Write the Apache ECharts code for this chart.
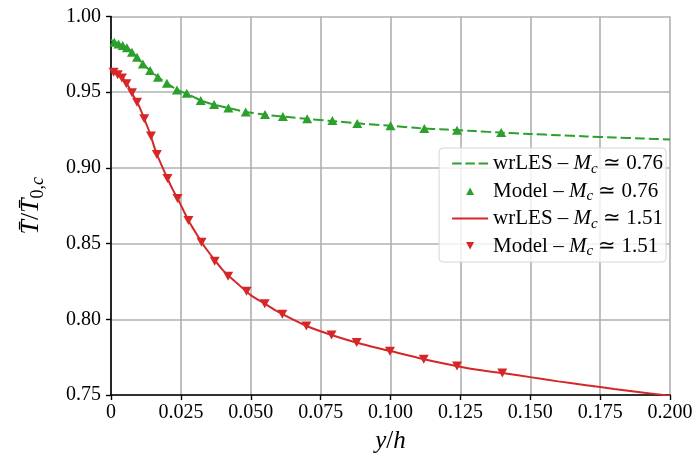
<!DOCTYPE html>
<html><head><meta charset="utf-8">
<script src="https://cdn.jsdelivr.net/npm/echarts@6/dist/echarts.min.js"></script>
<style>html,body{margin:0;padding:0;background:#fff}#c{width:696px;height:460px}</style>
</head><body><div id="c"></div>
<script>
// ---- data ----
const xTickMin = 0, xTickMax = 0.2, xTickStep = 0.025;
const yTickMin = 0.75, yTickMax = 1.0, yTickStep = 0.05;

const seriesNames = ['wrLES – Mc ≃ 0.76', 'Model – Mc ≃ 0.76', 'wrLES – Mc ≃ 1.51', 'Model – Mc ≃ 1.51'];

// wrLES, Mc ≃ 0.76 (dashed green)
const lesX076 = [0, 0.002, 0.004, 0.006, 0.008, 0.010, 0.012, 0.014, 0.017, 0.020, 0.024, 0.028, 0.032, 0.036, 0.042, 0.048, 0.055, 0.062, 0.070, 0.080, 0.090, 0.100, 0.110, 0.120, 0.130, 0.140, 0.150, 0.160, 0.170, 0.180, 0.190, 0.200];
const lesY076 = [0.9845, 0.9825, 0.9810, 0.9790, 0.9756, 0.9715, 0.9678, 0.9643, 0.9597, 0.9559, 0.9513, 0.9482, 0.9447, 0.9422, 0.9396, 0.9371, 0.9352, 0.9338, 0.9324, 0.9308, 0.9292, 0.9278, 0.9263, 0.9253, 0.9243, 0.9233, 0.9224, 0.9216, 0.9208, 0.9201, 0.9194, 0.9188];

// Model, Mc ≃ 0.76 (green up-triangles)
const modelX076 = [0.0012, 0.0027, 0.0042, 0.0057, 0.0075, 0.0093, 0.0114, 0.0140, 0.0168, 0.0200, 0.0236, 0.0271, 0.0321, 0.0369, 0.0420, 0.0482, 0.0551, 0.0615, 0.0702, 0.0792, 0.0881, 0.1000, 0.1121, 0.1238, 0.1396];
const modelY076 = [0.9830, 0.9819, 0.9808, 0.9793, 0.9764, 0.9731, 0.9687, 0.9643, 0.9599, 0.9559, 0.9515, 0.9493, 0.9445, 0.9418, 0.9396, 0.9370, 0.9352, 0.9339, 0.9324, 0.9313, 0.9293, 0.9278, 0.9260, 0.9249, 0.9233];

// wrLES, Mc ≃ 1.51 (solid red)
const lesX151 = [0, 0.002, 0.004, 0.006, 0.008, 0.010, 0.012, 0.014, 0.016, 0.018, 0.020, 0.022, 0.024, 0.026, 0.028, 0.030, 0.033, 0.036, 0.040, 0.045, 0.050, 0.055, 0.060, 0.070, 0.080, 0.090, 0.100, 0.110, 0.120, 0.130, 0.140, 0.150, 0.160, 0.170, 0.180, 0.190, 0.200];
const lesY151 = [0.9635, 0.9625, 0.9600, 0.9545, 0.9477, 0.9410, 0.9320, 0.9225, 0.9110, 0.9021, 0.8938, 0.8860, 0.8792, 0.8716, 0.8642, 0.8582, 0.8492, 0.8418, 0.8325, 0.8240, 0.8160, 0.8103, 0.8047, 0.7956, 0.7890, 0.7835, 0.7790, 0.7745, 0.7705, 0.7670, 0.7645, 0.7618, 0.7590, 0.7565, 0.7540, 0.7517, 0.7495];

// Model, Mc ≃ 1.51 (red down-triangles)
const modelX151 = [0.00095, 0.0024, 0.0039, 0.0055, 0.0075, 0.0093, 0.0119, 0.0143, 0.0164, 0.0202, 0.0238, 0.0277, 0.0324, 0.0371, 0.0419, 0.0485, 0.0550, 0.0613, 0.0699, 0.0789, 0.0879, 0.0998, 0.1119, 0.1238, 0.1400];
const modelY151 = [0.9632, 0.9616, 0.9594, 0.9555, 0.9496, 0.9434, 0.9325, 0.9211, 0.9088, 0.8930, 0.8798, 0.8652, 0.8509, 0.8383, 0.8284, 0.8185, 0.8103, 0.8033, 0.7956, 0.7896, 0.7846, 0.7789, 0.7736, 0.7692, 0.7645];

// ---- chart ----
const zip = (xs, ys) => xs.map((x, i) => [x, ys[i]]);
const FONT = 'Liberation Serif';
const GREEN = '#2ca02c', RED = '#d62728';

const legendRich = {
  t: {fontFamily: FONT, fontSize: 21, color: '#000', lineHeight: 26},
  i: {fontFamily: FONT, fontSize: 21, fontStyle: 'italic', color: '#000', lineHeight: 26},
  s: {fontFamily: FONT, fontSize: 15, fontStyle: 'italic', color: '#000', verticalAlign: 'bottom', lineHeight: 26}
};
const legendLabel = name => {
  const parts = name.split(' – Mc ≃ ');
  return '{t|' + parts[0] + ' – }{i|M}{s|c}{t| ≃ ' + parts[1] + '}';
};

// legend icons (shapes only; sized inside a 36x14 box)
const ICON_DASH = 'path://M0,0M36,14M0,5.9L9.5,5.9L9.5,8.1L0,8.1ZM13.25,5.9L22.75,5.9L22.75,8.1L13.25,8.1ZM26.5,5.9L36,5.9L36,8.1L26.5,8.1Z';
const ICON_SOLID = 'path://M0,0M36,14M0,6L36,6L36,8L0,8Z';
const ICON_UP = 'path://M0,0M36,14M14,11L22,11L18,3.5Z';
const ICON_DOWN = 'path://M0,0M36,14M14,3L22,3L18,10.5Z';

const chart = echarts.init(document.getElementById('c'), null, {renderer: 'canvas'});
chart.setOption({
  animation: false,
  backgroundColor: '#fff',
  grid: {left: 111, right: 26, top: 16.5, bottom: 65, containLabel: false},
  xAxis: {
    type: 'value', min: xTickMin, max: xTickMax, interval: xTickStep,
    name: '{i|y}{t|/}{i|h}', nameLocation: 'middle', nameGap: 34,
    nameTextStyle: {rich: {
      i: {fontFamily: FONT, fontSize: 25, fontStyle: 'italic', color: '#000'},
      t: {fontFamily: FONT, fontSize: 25, color: '#000'}
    }},
    axisLine: {show: true, onZero: false, lineStyle: {color: '#000', width: 1.6}},
    axisTick: {show: true, inside: false, length: 5, lineStyle: {color: '#000', width: 1.4}},
    axisLabel: {fontFamily: FONT, fontSize: 20, color: '#000', margin: 8,
      formatter: v => v === 0 ? '0' : v.toFixed(3)},
    splitLine: {show: true, lineStyle: {color: '#b0b0b0', width: 1.6}}
  },
  yAxis: {
    type: 'value', min: yTickMin, max: yTickMax, interval: yTickStep,
    name: '{i|T\u0304}{t|/}{i|T\u0304}{s|0,}{si|c}', nameLocation: 'middle', nameGap: 64,
    nameTextStyle: {rich: {
      i: {fontFamily: FONT, fontSize: 26, fontStyle: 'italic', color: '#000', lineHeight: 32},
      t: {fontFamily: FONT, fontSize: 26, color: '#000', lineHeight: 32},
      s: {fontFamily: FONT, fontSize: 18, color: '#000', verticalAlign: 'bottom', lineHeight: 32},
      si: {fontFamily: FONT, fontSize: 18, fontStyle: 'italic', color: '#000', verticalAlign: 'bottom', lineHeight: 32}
    }},
    axisLine: {show: true, onZero: false, lineStyle: {color: '#000', width: 1.6}},
    axisTick: {show: true, inside: false, length: 5, lineStyle: {color: '#000', width: 1.4}},
    axisLabel: {fontFamily: FONT, fontSize: 20, color: '#000', margin: 10,
      formatter: v => v.toFixed(2)},
    splitLine: {show: true, lineStyle: {color: '#b0b0b0', width: 1.6}}
  },
  legend: {
    orient: 'vertical', right: 30, top: 148,
    padding: [5, 3, 3, 13], itemGap: 4, itemWidth: 36, itemHeight: 14,
    backgroundColor: 'rgba(255,255,255,0.8)', borderColor: '#d6d6d6', borderWidth: 1, borderRadius: 4,
    formatter: legendLabel,
    textStyle: {rich: legendRich, fontFamily: FONT, fontSize: 21},
    data: [
      {name: seriesNames[0], icon: ICON_DASH, itemStyle: {color: GREEN}},
      {name: seriesNames[1], icon: ICON_UP, itemStyle: {color: GREEN}},
      {name: seriesNames[2], icon: ICON_SOLID, itemStyle: {color: RED}},
      {name: seriesNames[3], icon: ICON_DOWN, itemStyle: {color: RED}}
    ]
  },
  series: [
    {name: seriesNames[0], type: 'line', data: zip(lesX076, lesY076), symbol: 'none', smooth: 0.3,
     lineStyle: {color: GREEN, width: 2, type: [10, 4]}, itemStyle: {color: GREEN}, z: 2},
    {name: seriesNames[1], type: 'scatter', data: zip(modelX076, modelY076), symbol: 'triangle', symbolSize: [10, 9],
     itemStyle: {color: GREEN, opacity: 1}, z: 3},
    {name: seriesNames[2], type: 'line', data: zip(lesX151, lesY151), symbol: 'none', smooth: 0.3,
     lineStyle: {color: RED, width: 2}, itemStyle: {color: RED}, z: 2},
    {name: seriesNames[3], type: 'scatter', data: zip(modelX151, modelY151), symbol: 'triangle', symbolSize: [10, 9], symbolRotate: 180,
     itemStyle: {color: RED, opacity: 1}, z: 3}
  ]
});
</script>
</body></html>
